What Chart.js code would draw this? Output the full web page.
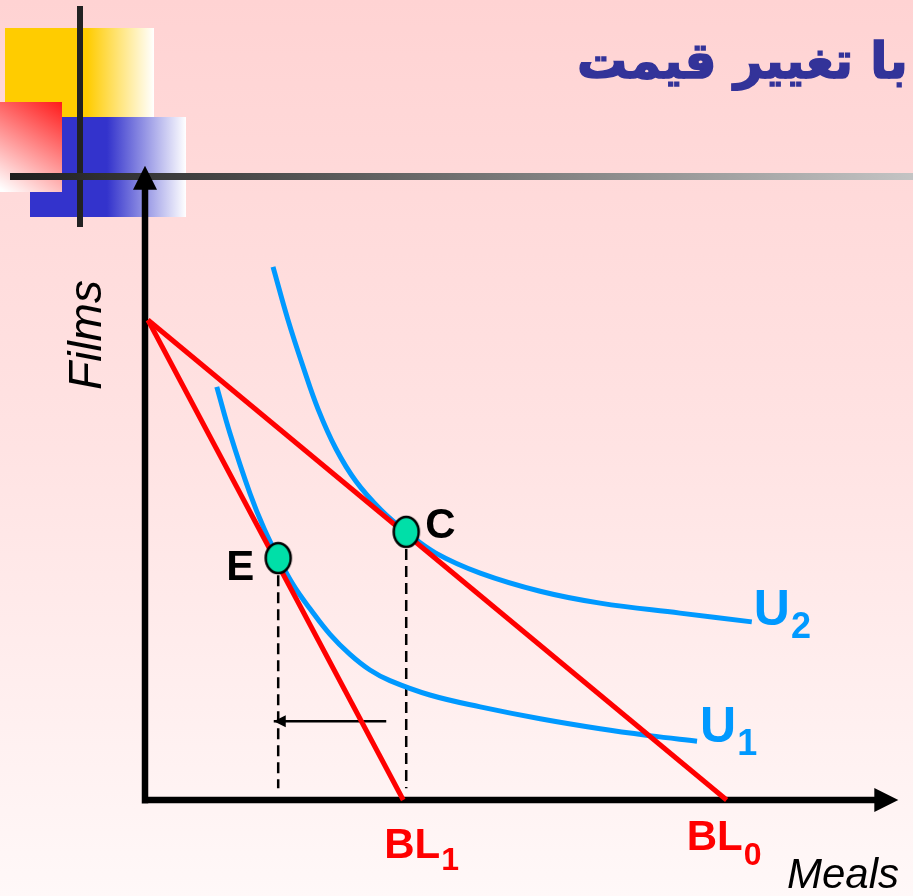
<!DOCTYPE html>
<html><head><meta charset="utf-8">
<script src="https://cdn.jsdelivr.net/npm/chart.js@4.4.1/dist/chart.umd.min.js"></script>
<style>
html,body{margin:0;padding:0;overflow:hidden;}
body{width:913px;height:896px;background:linear-gradient(to bottom,#FFD3D3 0%,#FFE3E3 50%,#FFF8F8 100%);}
canvas{display:block;}
</style></head><body>
<canvas id="c" width="913" height="896"></canvas>
<script>
// ---- texts ----
const titleText = 'با تغییر قیمت';
const xAxisLabel = 'Meals';
const yAxisLabel = 'Films';
const budgetNames = ['BL', 'BL'];
const budgetSubs = ['0', '1'];
const curveNames = ['U', 'U'];
const curveSubs = ['2', '1'];
const pointNames = ['E', 'C'];

// ---- data (Meals on x, Films on y) ----
const bl0X = [0.04, 7.86];
const bl0Y = [7.68, 0];
const bl1X = [0.04, 3.49];
const bl1Y = [7.68, 0];
const u2X = [1.73, 1.93, 2.14, 2.34, 2.58, 2.85, 3.19, 3.53, 3.93, 4.53, 5.34, 6.15, 7.23, 8.20];
const u2Y = [8.53, 7.69, 6.92, 6.25, 5.62, 5.10, 4.64, 4.29, 3.95, 3.63, 3.34, 3.15, 2.99, 2.85];
const u1X = [0.97, 1.15, 1.42, 1.61, 1.80, 2.01, 2.23, 2.50, 2.77, 3.04, 3.31, 3.85, 4.53, 5.34, 6.15, 6.82, 7.46];
const u1Y = [6.61, 5.86, 4.90, 4.34, 3.88, 3.43, 3.06, 2.65, 2.33, 2.08, 1.91, 1.68, 1.49, 1.30, 1.14, 1.03, 0.94];
const pointX = [1.80, 3.53];
const pointY = [3.87, 4.29];
const dropBottom = 0.19;
const shiftX = [3.26, 1.74];
const shiftY = [1.26, 1.26];
const axisMaxX = 10.18;
const axisMaxY = 10.15;

const pts = (xs, ys) => xs.map((x, i) => ({x, y: ys[i]}));

// green dot image
const dot = document.createElement('canvas');
dot.width = 30; dot.height = 34;
{
  const g = dot.getContext('2d');
  g.beginPath();
  g.ellipse(15, 17, 12.5, 15, 0, 0, Math.PI * 2);
  g.fillStyle = '#00DFA8';
  g.fill();
  g.lineWidth = 2.5;
  g.strokeStyle = '#000';
  g.stroke();
}

const RED = '#FF0000', BLUE = '#0099FF';

const decor = {
  id: 'decor',
  beforeDraw(chart) {
    const ctx = chart.ctx;
    ctx.save();
    // yellow square
    let gr = ctx.createLinearGradient(87, 0, 154, 0);
    gr.addColorStop(0, '#FFCC00'); gr.addColorStop(1, '#FFFFFF');
    ctx.fillStyle = gr; ctx.fillRect(5, 28, 149, 89);
    // blue square
    gr = ctx.createLinearGradient(107, 0, 186, 0);
    gr.addColorStop(0, '#3333CC'); gr.addColorStop(1, '#FFFFFF');
    ctx.fillStyle = gr; ctx.fillRect(30, 117, 156, 100);
    // red square
    gr = ctx.createLinearGradient(62, 102, 5, 192);
    gr.addColorStop(0, '#FF1A1A'); gr.addColorStop(1, '#FFFFFF');
    ctx.fillStyle = gr; ctx.fillRect(0, 102, 62, 90);
    // vertical dark line
    ctx.fillStyle = '#222222'; ctx.fillRect(77, 6, 6, 221);
    // horizontal gradient line
    gr = ctx.createLinearGradient(10, 0, 913, 0);
    gr.addColorStop(0, '#1E1E1E'); gr.addColorStop(1, '#C4C4C4');
    ctx.fillStyle = gr; ctx.fillRect(10, 173, 903, 7);
    // title
    ctx.fillStyle = '#333399';
    ctx.strokeStyle = '#333399';
    ctx.lineWidth = 1.6;
    ctx.font = "bold 50px 'DejaVu Sans'";
    ctx.direction = 'rtl';
    ctx.textAlign = 'left';
    ctx.textBaseline = 'alphabetic';
    ctx.fillText(titleText, 577, 78);
    ctx.strokeText(titleText, 577, 78);
    ctx.restore();
  }
};

const axes = {
  id: 'axes',
  beforeDatasetsDraw(chart) {
    const ctx = chart.ctx, xs = chart.scales.x, ys = chart.scales.y;
    const x0 = xs.getPixelForValue(0), y0 = ys.getPixelForValue(0);
    const xe = xs.getPixelForValue(axisMaxX), ye = ys.getPixelForValue(axisMaxY);
    ctx.save();
    ctx.fillStyle = '#000'; ctx.strokeStyle = '#000';
    ctx.lineWidth = 6.5; ctx.lineCap = 'butt';
    ctx.beginPath();
    ctx.moveTo(x0, y0 + 3.5); ctx.lineTo(x0, ye + 22);
    ctx.moveTo(x0 - 3, y0); ctx.lineTo(xe - 22, y0);
    ctx.stroke();
    ctx.beginPath();
    ctx.moveTo(x0, ye); ctx.lineTo(x0 - 12, ye + 24); ctx.lineTo(x0 + 12, ye + 24); ctx.closePath();
    ctx.moveTo(xe, y0); ctx.lineTo(xe - 24, y0 - 12); ctx.lineTo(xe - 24, y0 + 12); ctx.closePath();
    ctx.fill();
    ctx.restore();
  }
};

const labels = {
  id: 'labels',
  afterDatasetsDraw(chart) {
    const ctx = chart.ctx, xs = chart.scales.x, ys = chart.scales.y;
    const X = v => xs.getPixelForValue(v), Y = v => ys.getPixelForValue(v);
    ctx.save();
    ctx.textBaseline = 'alphabetic';
    // shift arrow head
    const ax = X(shiftX[1]), ay = Y(shiftY[1]);
    ctx.fillStyle = '#000';
    ctx.beginPath();
    ctx.moveTo(ax, ay); ctx.lineTo(ax + 12, ay - 6); ctx.lineTo(ax + 12, ay + 6); ctx.closePath();
    ctx.fill();
    // point labels
    ctx.font = "bold 42px 'Liberation Sans'";
    ctx.fillStyle = '#000';
    ctx.textAlign = 'right';
    ctx.fillText(pointNames[0], X(pointX[0]) - 24, Y(pointY[0]) + 22);
    ctx.textAlign = 'left';
    ctx.fillText(pointNames[1], X(pointX[1]) + 19, Y(pointY[1]) + 6);
    // curve labels
    const sub = (name, s, x, y, big, small, drop, color) => {
      ctx.fillStyle = color;
      ctx.textAlign = 'left';
      ctx.font = `bold ${big}px 'Liberation Sans'`;
      ctx.fillText(name, x, y);
      const w = ctx.measureText(name).width;
      ctx.font = `bold ${small}px 'Liberation Sans'`;
      ctx.fillText(s, x + w + 1, y + drop);
    };
    sub(curveNames[0], curveSubs[0], X(u2X[u2X.length - 1]) + 2, Y(u2Y[u2Y.length - 1]) + 3, 50, 36, 13, BLUE);
    sub(curveNames[1], curveSubs[1], X(u1X[u1X.length - 1]) + 3, Y(u1Y[u1Y.length - 1]) + 1, 50, 36, 13, BLUE);
    sub(budgetNames[1], budgetSubs[1], X(bl1X[1]) - 19, Y(0) + 58, 42, 32, 12, RED);
    sub(budgetNames[0], budgetSubs[0], X(bl0X[1]) - 40, Y(0) + 50, 42, 32, 15, RED);
    // axis titles
    ctx.fillStyle = '#000';
    ctx.font = "italic 42px 'Liberation Sans'";
    ctx.textAlign = 'left';
    ctx.fillText(xAxisLabel, 787, 888);
    ctx.translate(101, 335);
    ctx.rotate(-Math.PI / 2);
    ctx.font = "italic 46px 'Liberation Sans'";
    ctx.textAlign = 'center';
    ctx.fillText(yAxisLabel, 0, 0);
    ctx.restore();
  }
};

const lineDs = (data, color, width, extra) => Object.assign({
  data, borderColor: color, borderWidth: width, showLine: true,
  pointRadius: 0, pointHoverRadius: 0, fill: false, clip: false
}, extra || {});

new Chart(document.getElementById('c'), {
  type: 'scatter',
  data: {
    datasets: [
      lineDs(pts([pointX[0], pointX[0]], [pointY[0], dropBottom]), '#000', 2.5, {borderDash: [11, 6]}),
      lineDs(pts([pointX[1], pointX[1]], [pointY[1], dropBottom]), '#000', 2.5, {borderDash: [11, 6]}),
      lineDs(pts(shiftX, shiftY), '#000', 2.5),
      lineDs(pts(u2X, u2Y), BLUE, 5, {tension: 0.4}),
      lineDs(pts(u1X, u1Y), BLUE, 5, {tension: 0.4}),
      lineDs(pts(bl0X, bl0Y), RED, 5),
      lineDs(pts(bl1X, bl1Y), RED, 5),
      {data: pts(pointX, pointY), pointStyle: dot, pointRadius: 15, showLine: false, clip: false}
    ].reverse()
  },
  options: {
    responsive: false,
    animation: false,
    devicePixelRatio: 1,
    layout: {padding: {left: 145, right: 28, top: 175, bottom: 96}},
    scales: {
      x: {type: 'linear', min: 0, max: 10, display: false},
      y: {type: 'linear', min: 0, max: 10, display: false}
    },
    plugins: {legend: {display: false}, tooltip: {enabled: false}, title: {display: false}}
  },
  plugins: [decor, axes, labels]
});
</script>
</body></html>
